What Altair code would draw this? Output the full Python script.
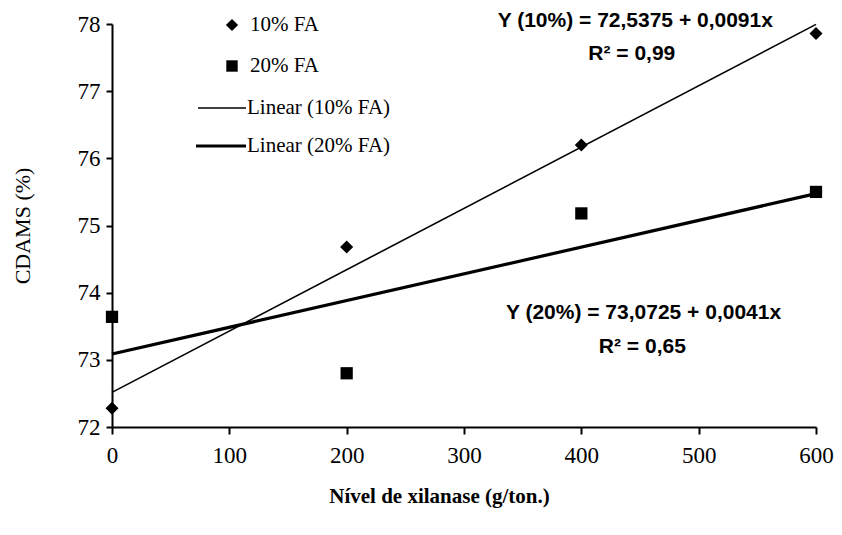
import altair as alt
import pandas as pd

# ---- data ----
levels = [0, 200, 400, 600]
cdams_10 = [72.28, 74.68, 76.20, 77.86]
cdams_20 = [73.64, 72.80, 75.18, 75.50]
series_names = ["10% FA", "20% FA"]
legend_labels = ["10% FA", "20% FA", "Linear (10% FA)", "Linear (20% FA)"]
eq_texts = ["Y (10%) = 72,5375 + 0,0091x", "R² = 0,99",
            "Y (20%) = 73,0725 + 0,0041x", "R² = 0,65"]
eq_x = [446, 443, 453, 452]
eq_y = [78.04, 77.55, 73.70, 73.19]
x_ticks = [0, 100, 200, 300, 400, 500, 600]
y_ticks = [72, 73, 74, 75, 76, 77, 78]

df = pd.DataFrame({
    "x": levels * 2,
    "y": cdams_10 + cdams_20,
    "series": [series_names[0]] * 4 + [series_names[1]] * 4,
})
ann = pd.DataFrame({"x": eq_x, "y": eq_y, "t": eq_texts})

SERIF = "Liberation Serif"
SANS = "Liberation Sans"

xs = alt.Scale(domain=[0, 600], nice=False, zero=False)
ys = alt.Scale(domain=[72, 78], nice=False, zero=False)

xenc = alt.X("x:Q", scale=xs, axis=alt.Axis(
    values=x_ticks, format="d", title="Nível de xilanase (g/ton.)", grid=False,
    domainColor="black", domainWidth=2, tickColor="black", tickWidth=2, tickSize=7,
    labelFont=SERIF, labelFontSize=23, labelColor="black", labelPadding=10,
    labelFlush=False,
    titleFont=SERIF, titleFontSize=21, titleFontWeight="bold", titleColor="black",
    titleX=327, titleY=58, titleAlign="center"))
yenc = alt.Y("y:Q", scale=ys, axis=alt.Axis(
    values=y_ticks, format="d", title="CDAMS (%)", grid=False,
    domainColor="black", domainWidth=2, tickColor="black", tickWidth=2, tickSize=6,
    labelFont=SERIF, labelFontSize=23, labelColor="black", labelPadding=6,
    titleFont=SERIF, titleFontSize=22, titleFontWeight="normal", titleColor="black",
    titlePadding=43))

base = alt.Chart(df)

points = base.mark_point(filled=True, opacity=1, color="black").encode(
    x=xenc, y=yenc,
    shape=alt.Shape("series:N", scale=alt.Scale(domain=series_names, range=["diamond", "square"]), legend=None),
    size=alt.Size("series:N", scale=alt.Scale(domain=series_names, range=[170, 150]), legend=None),
)

lines = base.transform_regression("x", "y", groupby=["series"], extent=[0, 600]).mark_line(
    color="black").encode(
    x=alt.X("x:Q", scale=xs), y=alt.Y("y:Q", scale=ys),
    strokeWidth=alt.StrokeWidth("series:N", scale=alt.Scale(domain=series_names, range=[1.6, 3.2]), legend=None),
    detail="series:N",
)

eqs = alt.Chart(ann).mark_text(font=SANS, fontSize=21, fontWeight="bold", color="black",
                               align="center", baseline="middle").encode(
    x=alt.X("x:Q", scale=xs), y=alt.Y("y:Q", scale=ys), text="t:N")

# ---- manual legend ----
def one(label):
    return pd.DataFrame({"label": [label]})

leg = []
leg.append(alt.Chart(one(legend_labels[0])).mark_point(shape="diamond", filled=True, size=150, color="black", opacity=1)
           .encode(x=alt.value(120), y=alt.value(1)))
leg.append(alt.Chart(one(legend_labels[1])).mark_point(shape="square", filled=True, size=130, color="black", opacity=1)
           .encode(x=alt.value(120), y=alt.value(42)))
leg.append(alt.Chart(one(legend_labels[2])).mark_rule(color="black", strokeWidth=1.6)
           .encode(x=alt.value(86), x2=alt.value(134), y=alt.value(84)))
leg.append(alt.Chart(one(legend_labels[3])).mark_rule(color="black", strokeWidth=3.2)
           .encode(x=alt.value(84), x2=alt.value(134), y=alt.value(122)))
for lab, lx, ly in zip(legend_labels, [138, 138, 135, 135], [1, 42, 84, 122]):
    leg.append(alt.Chart(one(lab)).mark_text(font=SERIF, fontSize=21, color="black",
                                             align="left", baseline="middle")
               .encode(x=alt.value(lx), y=alt.value(ly), text="label:N"))

chart = alt.layer(lines, points, eqs, *leg).properties(
    width=704, height=403,
    autosize=alt.AutoSizeParams(type="none"),
    padding={"left": 104, "top": 16, "right": 18, "bottom": 100},
    background="white",
).configure_view(stroke=None)

chart.save("out.html", embed_options={"renderer": "svg", "actions": False})
